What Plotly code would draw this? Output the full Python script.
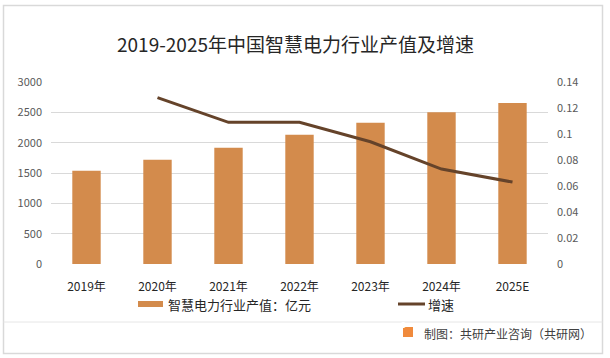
import plotly.graph_objects as go

years = ["2019年", "2020年", "2021年", "2022年", "2023年", "2024年", "2025E"]
output_value = [1538, 1720, 1918, 2132, 2330, 2500, 2652]
growth_years = ["2020年", "2021年", "2022年", "2023年", "2024年", "2025E"]
growth_rate = [0.128, 0.109, 0.109, 0.094, 0.073, 0.063]
left_ticks = [0, 500, 1000, 1500, 2000, 2500, 3000]
right_ticks = [0, 0.02, 0.04, 0.06, 0.08, 0.1, 0.12, 0.14]
right_tick_text = ["0", "0.02", "0.04", "0.06", "0.08", "0.1", "0.12", "0.14"]
bar_name = "智慧电力行业产值：亿元"
line_name = "增速"

FONT = "Noto Sans CJK SC"
BAR_C = "#D38B4C"
LINE_C = "#65432A"

W, H = 610, 358
L, R, T, B = 51, 62, 82, 94
PW, PH = W - L - R, H - T - B


def px(x):
    return (x - L) / PW


def py(y):
    return (H - B - y) / PH


fig = go.Figure()
fig.add_trace(go.Bar(
    x=years, y=output_value, name=bar_name,
    marker=dict(color=BAR_C, line=dict(width=0)), yaxis="y",
))
fig.add_trace(go.Scatter(
    x=growth_years, y=growth_rate, name=line_name, mode="lines",
    line=dict(color=LINE_C, width=3), yaxis="y2",
))

fig.update_layout(
    width=W, height=H,
    margin=dict(l=L, r=R, t=T, b=B, autoexpand=False),
    paper_bgcolor="white", plot_bgcolor="white",
    font=dict(family=FONT, color="#595959", size=11),
    title=dict(text="2019-2025年中国智慧电力行业产值及增速", x=295.5 / W, xanchor="center",
               xref="container", y=1 - 45 / H, yanchor="middle", yref="container",
               font=dict(family=FONT, size=19, color="#262626")),
    bargap=0.6,
    showlegend=False,
    xaxis=dict(showgrid=False, showline=False, ticks="", zeroline=False, automargin=False,
               ticklabelstandoff=14,
               tickfont=dict(family=FONT, size=12, color="#262626")),
    yaxis=dict(range=[0, 3000], tickvals=left_ticks, showgrid=True, automargin=False,
               gridcolor="#D9D9D9", gridwidth=1, zeroline=False, showline=False,
               ticks="", ticklabelstandoff=8,
               tickfont=dict(family=FONT, size=11, color="#595959")),
    yaxis2=dict(range=[0, 0.14], tickvals=right_ticks, ticktext=right_tick_text,
                overlaying="y", side="right", showgrid=False, zeroline=False,
                showline=False, ticks="", automargin=False, ticklabelstandoff=8,
                tickfont=dict(family=FONT, size=11, color="#595959")),
)

# outer border and footer separator
fig.add_shape(type="rect", xref="paper", yref="paper",
              x0=px(3.5), x1=px(602.5), y0=py(353.5), y1=py(5.5),
              line=dict(color="#D9D9D9", width=1.5), layer="below")
fig.add_shape(type="line", xref="paper", yref="paper",
              x0=px(3.5), x1=px(602.5), y0=py(322), y1=py(322),
              line=dict(color="#E6E6E6", width=1))

# custom legend
fig.add_shape(type="rect", xref="paper", yref="paper",
              x0=px(138), x1=px(163), y0=py(307), y1=py(301),
              fillcolor=BAR_C, line=dict(width=0))
fig.add_annotation(text=bar_name, xref="paper", yref="paper",
                   x=px(166), y=py(304), xanchor="left", yanchor="middle",
                   showarrow=False, font=dict(family=FONT, size=13, color="#262626"))
fig.add_shape(type="line", xref="paper", yref="paper",
              x0=px(398), x1=px(425), y0=py(304), y1=py(304),
              line=dict(color=LINE_C, width=3))
fig.add_annotation(text=line_name, xref="paper", yref="paper",
                   x=px(426), y=py(304), xanchor="left", yanchor="middle",
                   showarrow=False, font=dict(family=FONT, size=13, color="#262626"))

# footer logo and source
fig.add_shape(type="rect", xref="paper", yref="paper",
              x0=px(403), x1=px(413), y0=py(337), y1=py(327),
              fillcolor="#F08A3C", line=dict(width=0))
fig.add_annotation(text="<b>G</b>", xref="paper", yref="paper",
                   x=px(408), y=py(332), showarrow=False,
                   font=dict(family=FONT, size=8, color="white"))
fig.add_annotation(text="制图：共研产业咨询（共研网）", xref="paper", yref="paper",
                   x=px(594), y=py(333), xanchor="right", yanchor="middle",
                   showarrow=False, font=dict(family=FONT, size=12, color="#404040"))

fig.write_html("out.html", config={"displayModeBar": False},
               post_script="document.body.style.margin='0';")
